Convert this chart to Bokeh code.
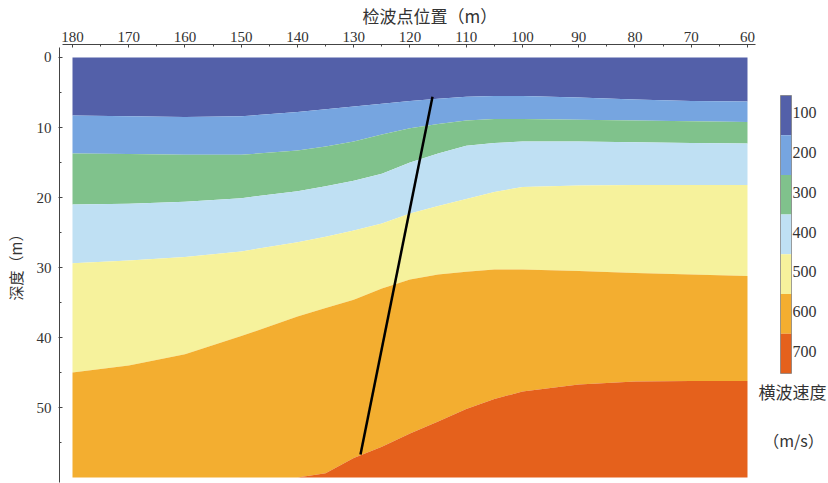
from bokeh.plotting import figure
from bokeh.models import Range1d, FixedTicker
from bokeh.embed import file_html
from bokeh.resources import INLINE
from bokeh.core.properties import value

# ---- data ----
positions = [180, 170, 160, 150, 140, 135, 130, 125, 120, 115, 110, 105, 100, 90, 80, 70, 60]
b1 = [8.3, 8.4, 8.5, 8.4, 7.8, 7.4, 7.0, 6.6, 6.2, 5.9, 5.6, 5.5, 5.5, 5.7, 6.0, 6.2, 6.3]
b2 = [13.7, 13.8, 13.9, 13.9, 13.3, 12.7, 12.0, 11.0, 10.1, 9.5, 9.0, 8.8, 8.8, 8.9, 9.0, 9.1, 9.2]
b3 = [21.0, 20.9, 20.6, 20.1, 19.1, 18.4, 17.6, 16.6, 15.0, 13.7, 12.6, 12.2, 12.0, 12.0, 12.1, 12.2, 12.3]
b4 = [29.4, 29.0, 28.5, 27.7, 26.4, 25.6, 24.7, 23.7, 22.3, 21.2, 20.2, 19.2, 18.5, 18.3, 18.2, 18.2, 18.2]
b5 = [45.0, 44.0, 42.4, 39.8, 37.0, 35.8, 34.6, 33.0, 31.7, 31.0, 30.6, 30.3, 30.3, 30.5, 30.8, 31.0, 31.2]
b6 = [60.0, 60.0, 60.0, 60.0, 60.0, 59.4, 57.2, 55.6, 53.7, 52.0, 50.2, 48.8, 47.7, 46.7, 46.3, 46.2, 46.2]
surface_depth = 0.0
bottom_depth = 60.0

velocities = [100, 200, 300, 400, 500, 600, 700]
colors = ["#5360A9", "#76A5E0", "#80C28C", "#BFE0F3", "#F6F29C", "#F3AE30", "#E5611C"]

fault_x = [116.0, 128.8]
fault_depth = [5.6, 56.7]

x_ticks = [180, 170, 160, 150, 140, 130, 120, 110, 100, 90, 80, 70, 60]
x_minor = [175, 165, 155, 145, 135, 125, 115, 105, 95, 85, 75, 65]
y_ticks = [0, 10, 20, 30, 40, 50]
y_minor = [5, 15, 25, 35, 45, 55]

x_title = "检波点位置（m）"
y_title = "深度（m）"
cb_title = "横波速度"
cb_unit = "（m/s）"

SERIF = "'Liberation Serif', serif"
CJK = "Noto Sans CJK SC"

# ---- figure ----
p = figure(width=828, height=483,
           x_range=Range1d(182.31, 45.6), y_range=Range1d(60.71, -1.857),
           x_axis_location="above", output_backend="svg", toolbar_location=None,
           min_border_left=59, min_border_right=0, min_border_bottom=1, min_border_top=44)
p.grid.visible = False
p.outline_line_color = None
p.background_fill_color = "white"

top = [surface_depth] * len(positions)
bot = [bottom_depth] * len(positions)
bounds = [top, b1, b2, b3, b4, b5, b6, bot]
for i, c in enumerate(colors):
    p.varea(x=positions, y1=bounds[i], y2=bounds[i + 1], fill_color=c)

p.line(fault_x, fault_depth, line_color="black", line_width=2.5)

p.title.text = x_title
p.title.align = "left"
p.title.offset = 303
p.title.standoff = 1
p.title.text_font = CJK
p.title.text_font_size = "17px"
p.title.text_font_style = "normal"
p.title.text_color = "#333333"

xa = p.xaxis[0]
xa.ticker = FixedTicker(ticks=x_ticks, minor_ticks=x_minor)
xa.bounds = (58.6, 181.8)
xa.major_tick_in = 3
xa.major_tick_out = 0
xa.minor_tick_in = 2
xa.minor_tick_out = 0
xa.major_label_standoff = 3
xa.major_label_text_font = SERIF
xa.major_label_text_font_size = "15px"
xa.major_label_text_color = "#333333"
xa.axis_line_color = "#444444"
xa.major_tick_line_color = "#444444"
xa.minor_tick_line_color = "#444444"

ya = p.yaxis[0]
ya.ticker = FixedTicker(ticks=y_ticks, minor_ticks=y_minor)
ya.bounds = (-1.43, 60.71)
ya.major_tick_in = 3
ya.major_tick_out = 1
ya.minor_tick_in = 2
ya.minor_tick_out = 0
ya.major_label_standoff = 7
ya.major_label_text_font = SERIF
ya.major_label_text_font_size = "15px"
ya.major_label_text_color = "#333333"
ya.axis_label = y_title
ya.axis_label_standoff = 8
ya.axis_label_text_font = CJK
ya.axis_label_text_font_size = "15px"
ya.axis_label_text_font_style = "normal"
ya.axis_label_text_color = "#333333"
ya.axis_line_color = "#444444"
ya.major_tick_line_color = "#444444"
ya.minor_tick_line_color = "#444444"

# ---- colour legend on its own ranges (x in frame pixels, y in legend slots) ----
p.extra_x_ranges = {"leg": Range1d(0, 769)}
p.extra_y_ranges = {"leg": Range1d(9.248, -1.785)}
idx = list(range(len(velocities)))
label_y = [i - 0.06 for i in idx]
p.rect(x=726.5, y=idx, width=11, height=1, fill_color=colors, line_color=None,
       x_range_name="leg", y_range_name="leg")
p.rect(x=726.5, y=3, width=11, height=7, fill_color=None, line_color="#777777",
       line_width=0.7, x_range_name="leg", y_range_name="leg")
p.text(x=733, y=label_y, text=[str(v) for v in velocities], text_baseline="middle",
       text_font=value(SERIF), text_font_size="16px", text_color="#333333",
       x_range_name="leg", y_range_name="leg")
p.text(x=[733], y=[6.956], text=[cb_title], text_align="center",
       text_baseline="middle", text_font=value(CJK), text_font_size="17px",
       text_color="#333333", x_range_name="leg", y_range_name="leg")
p.text(x=[734], y=[8.19], text=[cb_unit], text_align="center",
       text_baseline="middle", text_font=value(CJK), text_font_size="16px",
       text_color="#333333", x_range_name="leg", y_range_name="leg")

open("out.html", "w").write(file_html(p, INLINE))
